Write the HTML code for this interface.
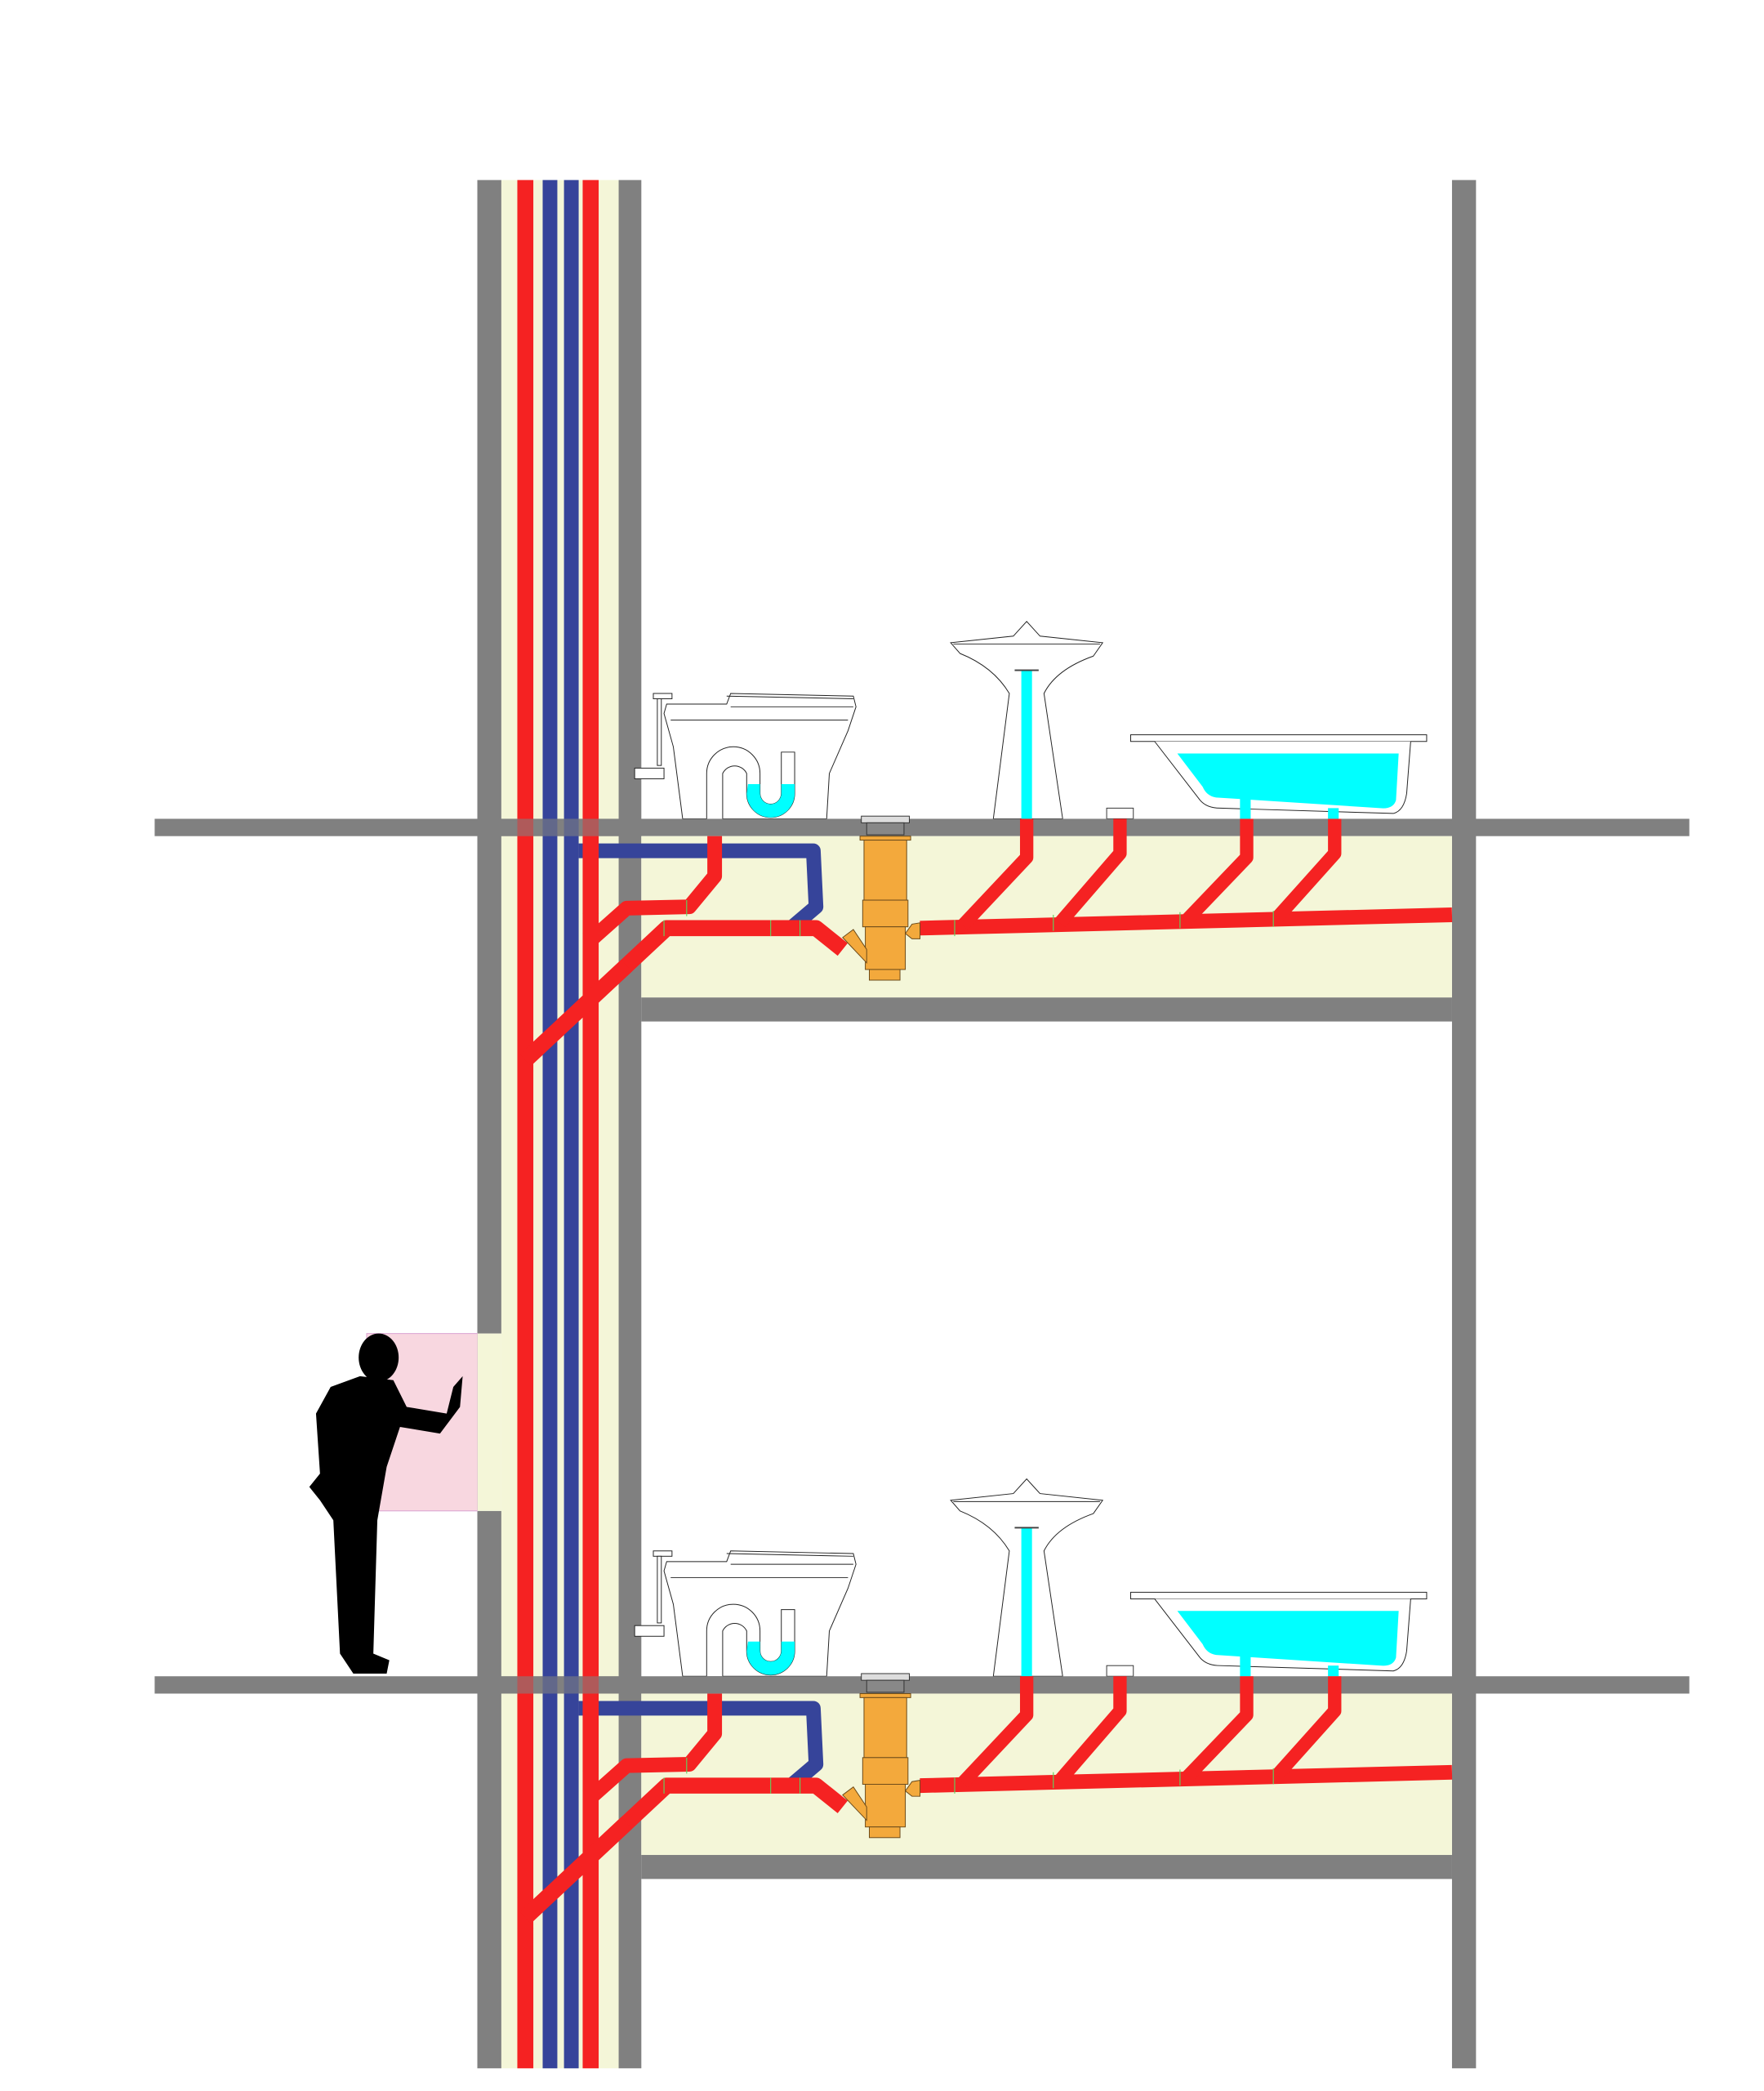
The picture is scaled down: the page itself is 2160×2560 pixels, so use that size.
<!DOCTYPE html>
<html><head><meta charset="utf-8"><style>html,body{margin:0;padding:0;background:#fff}svg{display:block}</style></head>
<body>
<svg width="2160" height="2560" viewBox="0 0 1323 1568" preserveAspectRatio="none" xmlns="http://www.w3.org/2000/svg">
<defs>
<g id="floor">
  <g fill="#fff" stroke="#222" stroke-width="0.6">
    <path d="M500 528 L545 528 L548 520 L640 522 L642 530 L636 548 L622 580 L620 614 L512 614 L505 560 L498 535 Z"/>
    <path d="M545 522 L640 524 M548 530 L640 530 M503 540 L636 540"/>
    <rect x="490" y="520" width="14" height="4"/>
    <rect x="493" y="524" width="3" height="50"/>
    <rect x="476" y="576" width="22" height="8"/>
    <path d="M530 614 L530 580 A20 20 0 0 1 570 580 L570 595 A8 8 0 0 0 586 595 L586 564 L596 564 L596 595 A18 18 0 0 1 560 595 L560 580 A10 10 0 0 0 542 580 L542 614"/>
  </g>
  <path d="M561 588 L596 588 L596 595 A18 18 0 0 1 560 595 Z M570 588 L570 595 A8 8 0 0 0 586 595 L586 588 Z" fill="#00ffff" fill-rule="evenodd"/>
  <g fill="#fff" stroke="#222" stroke-width="0.6">
    <path d="M745 614 L757 520 Q745 500 720 490 L713 482 L760 477 L770 466 L780 477 L827 482 L820 492 Q792 502 783 520 L797 614 Z"/>
    <path d="M715 483 L825 483"/>
  </g>
  <rect x="766" y="503" width="8" height="111" fill="#00ffff"/>
  <rect x="761" y="502" width="18" height="1.2" fill="#444"/>
  <rect x="830" y="606" width="20" height="8" fill="#fff" stroke="#333" stroke-width="0.6"/>
  <g fill="#fff" stroke="#222" stroke-width="0.6">
    <rect x="848" y="551" width="222" height="5"/>
    <path d="M866 556 L900 600 Q905 606 915 606 L1045 610 Q1053 608 1055 595 L1058 556"/>
  </g>
  <path d="M883 565 L1049 565 L1047 600 Q1045 607 1035 606 L912 598 Q905 597 902 590 Z" fill="#00ffff"/>
  <rect x="930" y="598" width="8" height="16" fill="#00ffff"/>
  <rect x="996" y="606" width="8" height="8" fill="#00ffff"/>
  <rect x="116" y="614" width="1151" height="13" fill="#808080"/>
  <rect x="481" y="627" width="608" height="121" fill="#f4f6d8"/>
  <rect x="481" y="748" width="608" height="18" fill="#808080"/>
  <g fill="none" stroke-linejoin="round">
    <path d="M434 638 L610 638 L612 680 L592 697" stroke="#36449a" stroke-width="11"/>
    <path d="M536 627 L536 657 L517 680 L470 681 L443 705" stroke="#f52222" stroke-width="11"/>
    <path d="M394 795 L500 696 L612 696 L632 712" stroke="#f52222" stroke-width="12"/>
    <path d="M690 696 L1089 686" stroke="#f52222" stroke-width="11"/>
    <path d="M770 614 L770 643 L722 694 M840 614 L840 640 L795 692 M935 614 L935 643 L890 690 M1001 614 L1001 640 L958 688" stroke="#f52222" stroke-width="10"/>
  </g>
  <g fill="none" stroke="#5fd35f" stroke-width="0.7">
    <path d="M437 685 h12 M437 700 h12 M388 780 h12 M388 803 h12 M498 690 v12 M515 675 v12 M578 690 v12 M600 690 v12 M716 690 v12 M790 686 v12 M885 684 v12 M955 683 v12"/>
  </g>
  <g fill="#f3a93c" stroke="#6b4a1a" stroke-width="0.6">
    <rect x="646" y="612" width="36" height="5" fill="#ddd" stroke="#333"/>
    <rect x="650" y="617" width="28" height="9" fill="#888" stroke="#333"/>
    <rect x="645" y="627" width="38" height="3"/>
    <rect x="648" y="630" width="32" height="45"/>
    <rect x="647" y="675" width="34" height="20"/>
    <rect x="649" y="695" width="30" height="32"/>
    <rect x="652" y="727" width="23" height="8"/>
    <path d="M632 703 L640 697 L650 712 L650 722 Z"/>
    <path d="M679 700 L684 693 L690 692 L690 704 L684 704 Z"/>
  </g>
</g>
</defs>

<rect x="376" y="135" width="88" height="1416" fill="#f4f6d8"/>
<rect x="358" y="135" width="18" height="865" fill="#808080"/>
<rect x="358" y="1133" width="18" height="418" fill="#808080"/>
<rect x="464" y="135" width="17" height="1416" fill="#808080"/>
<rect x="1089" y="135" width="18" height="1416" fill="#808080"/>
<rect x="275" y="1000" width="83" height="133" fill="#f8d7e0" stroke="#d9a0d0" stroke-width="0.6"/>
<rect x="358" y="1000" width="18" height="133" fill="#f4f6d8"/>

<use href="#floor"/>
<use href="#floor" y="643"/>

<rect x="388" y="135" width="12" height="1416" fill="#f52222"/>
<rect x="407" y="135" width="11" height="1416" fill="#36449a"/>
<rect x="423" y="135" width="11" height="1416" fill="#36449a"/>
<rect x="437" y="135" width="12" height="1416" fill="#f52222"/>
<path d="M394 795 L470 724" stroke="#f52222" stroke-width="12"/>
<path d="M394 1438 L470 1367" stroke="#f52222" stroke-width="12"/>
<rect x="358" y="614" width="123" height="13" fill="#808080" opacity="0.6"/>
<rect x="358" y="1257" width="123" height="13" fill="#808080" opacity="0.6"/>
<rect x="464" y="614" width="17" height="13" fill="#808080"/>
<rect x="464" y="1257" width="17" height="13" fill="#808080"/>
<rect x="358" y="614" width="18" height="13" fill="#808080"/>
<rect x="358" y="1257" width="18" height="13" fill="#808080"/>

<g fill="#000">
  <ellipse cx="284" cy="1018" rx="15" ry="18"/>
  <path d="M270 1032 L295 1035 L305 1055 L335 1060 L340 1040 L347 1032 L345 1055 L330 1075 L300 1070 L290 1100 L283 1140 L280 1240 L292 1245 L290 1255 L265 1255 L255 1240 L250 1140 L240 1125 L232 1115 L240 1105 L237 1060 L248 1040 Z"/>
</g>
</svg>
</body></html>
